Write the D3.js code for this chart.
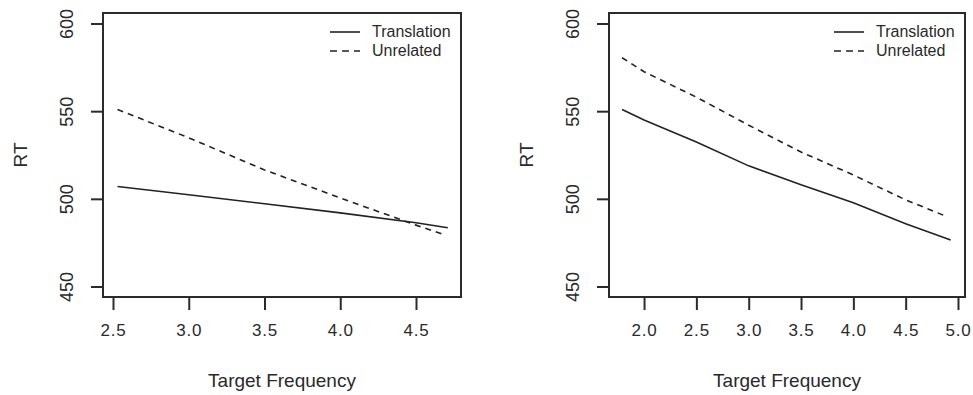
<!DOCTYPE html>
<html>
<head>
<meta charset="utf-8">
<script src="https://cdn.jsdelivr.net/npm/d3@7"></script>
<style>
  body { margin: 0; background: #fff; }
  text { font-family: "Liberation Sans", Arial, sans-serif; fill: #2a2a2a; }
</style>
</head>
<body>
<svg id="chart" width="973" height="395"></svg>
<script>
// panel 1 (left)
const leftFreq = [2.53, 3.0, 3.5, 4.0, 4.5, 4.71];
const leftTranslation = [507, 502.3, 497.2, 492, 486.4, 483.5];
const leftUnrelatedFreq = [2.53, 3.0, 3.5, 4.0, 4.5, 4.67];
const leftUnrelated = [551, 534.8, 516.5, 500.5, 485, 480];
const leftTicks = [2.5, 3.0, 3.5, 4.0, 4.5];

// panel 2 (right)
const rightFreq = [1.79, 2.0, 2.5, 3.0, 3.5, 4.0, 4.5, 4.93];
const rightTranslation = [551, 545, 532.4, 518.8, 508, 497.7, 485.8, 476.5];
const rightUnrelatedFreq = [1.79, 2.0, 2.5, 3.0, 3.5, 4.0, 4.5, 4.90];
const rightUnrelated = [580.5, 572.5, 558, 542, 526.7, 513.6, 499.4, 489.7];
const rightTicks = [2.0, 2.5, 3.0, 3.5, 4.0, 4.5, 5.0];

const rtTicks = [450, 500, 550, 600];
const seriesNames = ["Translation", "Unrelated"];

const svg = d3.select("#chart");
const ink = "#2b2b2b";

function drawPanel(box, xDomain, xTicks, tr, un) {
  const x = d3.scaleLinear().domain(xDomain).range([box.left, box.right]);
  const y = d3.scaleLinear().domain([444, 606]).range([box.bottom, box.top]);
  const g = svg.append("g");

  // frame
  g.append("rect")
    .attr("x", box.left).attr("y", box.top)
    .attr("width", box.right - box.left).attr("height", box.bottom - box.top)
    .attr("fill", "none").attr("stroke", ink).attr("stroke-width", 2);

  // x axis
  const xa = g.append("g").attr("transform", "translate(0," + box.bottom + ")")
    .call(d3.axisBottom(x).tickValues(xTicks).tickFormat(d3.format(".1f")).tickSize(13).tickPadding(14));
  xa.select(".domain").remove();
  xa.selectAll("line").attr("stroke", ink).attr("stroke-width", 2);
  xa.selectAll("text").style("font-size", "17px").attr("fill", "#2a2a2a").style("letter-spacing", "0.8px");

  // y axis, labels rotated like R's default
  const ya = g.append("g").attr("transform", "translate(" + box.left + ",0)")
    .call(d3.axisLeft(y).tickValues(rtTicks).tickSize(12).tickPadding(0));
  ya.select(".domain").remove();
  ya.selectAll("line").attr("stroke", ink).attr("stroke-width", 2);
  ya.selectAll("text")
    .attr("x", null).attr("dy", null)
    .attr("text-anchor", "middle")
    .attr("transform", "translate(-30,0) rotate(-90)")
    .style("font-size", "18px").attr("fill", "#2a2a2a");

  // axis titles
  g.append("text")
    .attr("x", (box.left + box.right) / 2).attr("y", 387)
    .attr("text-anchor", "middle").style("font-size", "19px")
    .text("Target Frequency");
  g.append("text")
    .attr("transform", "translate(" + (box.left - 76) + "," + ((box.top + box.bottom) / 2) + ") rotate(-90)")
    .attr("text-anchor", "middle").style("font-size", "19px")
    .text("RT");

  const line = d3.line().x(d => x(d[0])).y(d => y(d[1]));
  g.append("path").datum(tr.f.map((f, i) => [f, tr.v[i]]))
    .attr("d", line).attr("fill", "none").attr("stroke", "#222").attr("stroke-width", 1.6);
  g.append("path").datum(un.f.map((f, i) => [f, un.v[i]]))
    .attr("d", line).attr("fill", "none").attr("stroke", "#222").attr("stroke-width", 1.6)
    .attr("stroke-dasharray", "6,5");

  // legend
  const lg = g.append("g");
  seriesNames.forEach((name, i) => {
    const ly = 32 + i * 19;
    lg.append("line")
      .attr("x1", box.right - 131).attr("x2", box.right - 101)
      .attr("y1", ly).attr("y2", ly)
      .attr("stroke", "#222").attr("stroke-width", 1.6)
      .attr("stroke-dasharray", i === 1 ? "7,5" : null);
    lg.append("text")
      .attr("x", box.right - 89).attr("y", ly + 5)
      .style("font-size", "16px")
      .text(name);
  });
}

drawPanel({ left: 103, right: 461, top: 13, bottom: 297 }, [2.434, 4.797], leftTicks,
  { f: leftFreq, v: leftTranslation }, { f: leftUnrelatedFreq, v: leftUnrelated });
drawPanel({ left: 609, right: 965, top: 13, bottom: 297 }, [1.665, 5.067], rightTicks,
  { f: rightFreq, v: rightTranslation }, { f: rightUnrelatedFreq, v: rightUnrelated });
</script>
</body>
</html>
